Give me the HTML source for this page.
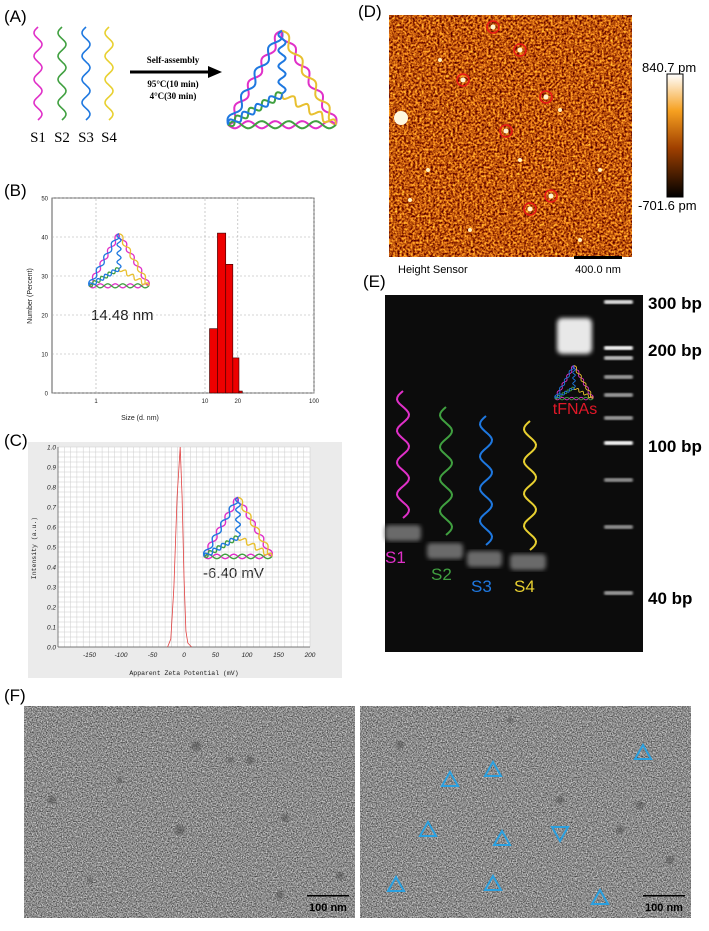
<!DOCTYPE html>
<html><head><meta charset="utf-8"><style>
html,body{margin:0;padding:0;background:#fff;}
body{width:709px;height:931px;overflow:hidden;position:relative;font-family:"Liberation Sans",sans-serif;}
svg{position:absolute;left:0;top:0;}
</style></head><body>
<svg id="fig" width="709" height="931" viewBox="0 0 709 931" xmlns="http://www.w3.org/2000/svg">
<defs>
<filter id="afmNoise" x="0" y="0" width="100%" height="100%" color-interpolation-filters="sRGB">
<feTurbulence type="fractalNoise" baseFrequency="0.45" numOctaves="2" seed="4" result="n"/>
<feColorMatrix in="n" type="matrix" values="1.6 0 0 0 -0.05  1.5 0 0 0 -0.41  0.5 0 0 0 -0.2  0 0 0 0 1"/>
</filter>
<filter id="temNoise" x="0" y="0" width="100%" height="100%" color-interpolation-filters="sRGB">
<feTurbulence type="fractalNoise" baseFrequency="0.8" numOctaves="2" seed="7" result="n"/>
<feColorMatrix in="n" type="matrix" values="1.05 0 0 0 0.02  1.05 0 0 0 0.02  1.05 0 0 0 0.02  0 0 0 0 1"/>
</filter>
<filter id="blur2"><feGaussianBlur stdDeviation="2"/></filter>
<filter id="blur1"><feGaussianBlur stdDeviation="1"/></filter>
</defs>

<!-- Panel A -->
<g id="panelA">
<text x="173" y="63" font-family="Liberation Serif,serif" font-weight="bold" font-size="9" text-anchor="middle">Self-assembly</text>
<line x1="130" y1="72" x2="212" y2="72" stroke="#000" stroke-width="3"/>
<polygon points="222,72 208,66 208,78" fill="#000"/>
<text x="173" y="87" font-family="Liberation Serif,serif" font-weight="bold" font-size="9" text-anchor="middle">95°C(10 min)</text>
<text x="173" y="99" font-family="Liberation Serif,serif" font-weight="bold" font-size="9" text-anchor="middle">4°C(30 min)</text>
<text x="38" y="142" font-family="Liberation Serif,serif" font-size="15" text-anchor="middle">S1</text>
<text x="62" y="142" font-family="Liberation Serif,serif" font-size="15" text-anchor="middle">S2</text>
<text x="86" y="142" font-family="Liberation Serif,serif" font-size="15" text-anchor="middle">S3</text>
<text x="109" y="142" font-family="Liberation Serif,serif" font-size="15" text-anchor="middle">S4</text>
</g>

<!-- Panel B -->
<g id="panelB">
<rect x="52" y="198" width="262" height="195" fill="#fff" stroke="#333" stroke-width="0.8"/>
<text x="140" y="420" font-size="7" text-anchor="middle" fill="#222">Size (d. nm)</text>
<text x="0" y="0" font-size="7" text-anchor="middle" fill="#222" transform="translate(32,296) rotate(-90)">Number (Percent)</text>
<text x="91" y="320" font-size="15" fill="#222">14.48 nm</text>
</g>

<!-- Panel C -->
<g id="panelC">
<rect x="28" y="442" width="314" height="236" fill="#ebebeb"/>
<rect x="58" y="447" width="252" height="200" fill="#fff"/>
<text x="184" y="675" font-family="Liberation Mono,monospace" font-size="6.5" text-anchor="middle" fill="#222">Apparent Zeta Potential (mV)</text>
<text x="0" y="0" font-family="Liberation Mono,monospace" font-size="6.5" text-anchor="middle" fill="#222" transform="translate(36,548) rotate(-90)">Intensity (a.u.)</text>
<text x="203" y="578" font-size="15" fill="#222">-6.40 mV</text>
</g>

<!-- Panel D -->
<g id="panelD">
<rect x="389" y="15" width="243" height="242" fill="#b45410" filter="url(#afmNoise)"/>
<circle cx="401" cy="118" r="7" fill="#fff8e0"/>
<defs><linearGradient id="cbar" x1="0" y1="0" x2="0" y2="1">
<stop offset="0" stop-color="#ffffff"/><stop offset="0.3" stop-color="#f6a020"/><stop offset="0.6" stop-color="#a04000"/><stop offset="1" stop-color="#000"/></linearGradient></defs>
<rect x="667" y="74" width="16" height="123" fill="url(#cbar)" stroke="#000" stroke-width="1"/>
<text x="642" y="72" font-size="13">840.7 pm</text>
<text x="638" y="210" font-size="13">-701.6 pm</text>
<text x="398" y="273" font-size="11">Height Sensor</text>
<rect x="574" y="256" width="48" height="3" fill="#000"/>
<text x="598" y="273" font-size="11" text-anchor="middle">400.0 nm</text>
</g>

<!-- Panel E -->
<g id="panelE">
<rect x="385" y="295" width="258" height="357" fill="#0c0c0c"/>
<text x="648" y="309" font-size="17" font-weight="bold">300 bp</text>
<text x="648" y="356" font-size="17" font-weight="bold">200 bp</text>
<text x="648" y="452" font-size="17" font-weight="bold">100 bp</text>
<text x="648" y="604" font-size="17" font-weight="bold">40 bp</text>
<text x="385" y="563" font-size="17" fill="#e030c8">S1</text>
<text x="431" y="580" font-size="17" fill="#40a040">S2</text>
<text x="471" y="592" font-size="17" fill="#1e78e0">S3</text>
<text x="514" y="592" font-size="17" fill="#e8d030">S4</text>
<text x="575" y="414" font-size="16" fill="#e01828" text-anchor="middle">tFNAs</text>
</g>

<!-- Panel F -->
<g id="panelF">
<rect x="24" y="706" width="331" height="212" fill="#8c8c8c" filter="url(#temNoise)"/>
<rect x="360" y="706" width="331" height="212" fill="#8c8c8c" filter="url(#temNoise)"/>
</g>
<g id="panelFover">
<rect x="307" y="895" width="42" height="1.5" fill="#000"/>
<text x="328" y="911" font-size="11" font-weight="bold" text-anchor="middle">100 nm</text>
<rect x="643" y="895" width="42" height="1.5" fill="#000"/>
<text x="664" y="911" font-size="11" font-weight="bold" text-anchor="middle">100 nm</text>
</g>

<!-- panel labels -->
<text x="4" y="22" font-size="17">(A)</text>
<text x="4" y="196" font-size="17">(B)</text>
<text x="4" y="446" font-size="17">(C)</text>
<text x="358" y="17" font-size="17">(D)</text>
<text x="363" y="287" font-size="17">(E)</text>
<text x="4" y="701" font-size="17">(F)</text>
</svg>
<script>
// ---- Panel B data ----
const binLeft = [11, 13, 15.5, 18, 20.5];
const binRight = [13, 15.5, 18, 20.5, 22];
const binValues = [16.5, 41, 33, 9, 0.5];
const bYTicks = [0, 10, 20, 30, 40, 50];
const bXTicks = [1, 10, 20, 100];
// ---- Panel C data ----
const zetaX = [-26, -21, -16, -11, -6, -3, 0, 3, 6, 9, 12];
const zetaY = [0, 0.04, 0.3, 0.75, 1.0, 0.75, 0.35, 0.08, 0.02, 0.01, 0];
const cXTicks = [-150, -100, -50, 0, 50, 100, 150, 200];
const cYTicks = [0, 0.1, 0.2, 0.3, 0.4, 0.5, 0.6, 0.7, 0.8, 0.9, 1.0];
// ---- Panel E data ----
const ladderBands = [302, 348, 358, 377, 395, 418, 443, 480, 527, 593];
const ladderBright = [0.9, 1, 0.75, 0.6, 0.6, 0.6, 1, 0.55, 0.55, 0.6];

const NS = 'http://www.w3.org/2000/svg';
function mk(tag, attrs, parent) {
  const e = document.createElementNS(NS, tag);
  for (const k in attrs) e.setAttribute(k, attrs[k]);
  (parent || document.getElementById('fig')).appendChild(e);
  return e;
}
function wavePath(x1, y1, x2, y2, amp, n) {
  const dx = x2 - x1, dy = y2 - y1, L = Math.hypot(dx, dy);
  const ux = dx / L, uy = dy / L, px = -uy, py = ux;
  let d = '';
  for (let i = 0; i <= 60; i++) {
    const t = i / 60, s = amp * Math.sin(t * n * 2 * Math.PI);
    d += (i ? 'L' : 'M') + (x1 + dx * t + px * s).toFixed(1) + ' ' + (y1 + dy * t + py * s).toFixed(1);
  }
  return d;
}
function triangle(g, cx, cy, s, sw) {
  const h = s * 0.87;
  const T = [cx, cy - h * 0.62], L = [cx - s / 2, cy + h * 0.38], R = [cx + s / 2, cy + h * 0.38], C = [cx, cy + h * 0.05];
  const a = s / 30;
  const segs = [[T, L, '#e030c8', 0], [T, L, '#1e78e0', 1], [T, R, '#e030c8', 0], [T, R, '#e8c030', 1],
    [L, R, '#e030c8', 0], [L, R, '#40a040', 1], [T, C, '#1e78e0', 0], [L, C, '#40a040', 0], [C, R, '#e8c030', 0], [L, C, '#1e78e0', 1]];
  segs.forEach(sg => {
    const p = mk('path', { d: wavePath(sg[0][0], sg[0][1], sg[1][0], sg[1][1], sg[3] ? -a : a, 4), fill: 'none', stroke: sg[2], 'stroke-width': sw }, g);
    
    
  });
}

// Panel A strands
const gA = document.getElementById('panelA');
[['#e030c8', 38], ['#40a040', 62], ['#1e78e0', 86], ['#e8d030', 109]].forEach((c, i) => {
  const p = mk('path', { d: wavePath(c[1], 27, c[1], 120, 4, 4), fill: 'none', stroke: c[0], 'stroke-width': 1.6 }, gA);
  
  
});
triangle(gA, 282, 89, 108, 2);

// Panel B
const gB = document.getElementById('panelB');
const bx0 = 52, bx1 = 314, by0 = 393, by1 = 198;
const bxs = v => 96 + Math.log10(v) * 109;
const bys = v => by0 - (v / 50) * (by0 - by1);
bYTicks.forEach(t => {
  const l = mk('line', { x1: bx0, x2: bx1, y1: bys(t), y2: bys(t), stroke: '#aaa', 'stroke-width': 0.6, 'stroke-dasharray': '2,2' }, gB);
  
  
  const tx = mk('text', { x: bx0 - 4, y: bys(t) + 2.5, 'font-size': 6, 'text-anchor': 'end', fill: '#222' }, gB);
  tx.textContent = t;
  
  
});
bXTicks.forEach(t => {
  const l = mk('line', { x1: bxs(t), x2: bxs(t), y1: by0, y2: by1, stroke: '#aaa', 'stroke-width': 0.6, 'stroke-dasharray': '2,2' }, gB);
  
  
  const tx = mk('text', { x: bxs(t), y: by0 + 10, 'font-size': 6, 'text-anchor': 'middle', fill: '#222' }, gB);
  tx.textContent = t;
  
  
});
binValues.forEach((v, i) => {
  const r = mk('rect', { x: bxs(binLeft[i]), y: bys(v), width: bxs(binRight[i]) - bxs(binLeft[i]), height: by0 - bys(v), fill: '#ee0000', stroke: '#300', 'stroke-width': 0.6 }, gB);
  
  
});
triangle(gB, 119, 266, 60, 1.3);

// Panel C
const gC = document.getElementById('panelC');
const cx0 = 58, cx1 = 310, cy0 = 647, cy1 = 447;
const cxs = v => cx0 + (v + 200) / 400 * (cx1 - cx0);
const cys = v => cy0 - v * (cy0 - cy1);
for (let v = -200; v <= 200; v += 10) {
  const l = mk('line', { x1: cxs(v), x2: cxs(v), y1: cy0, y2: cy1, stroke: '#ccc', 'stroke-width': 0.5 }, gC);
  
  
}
for (let v = 0; v <= 1.0001; v += 0.025) {
  const l = mk('line', { x1: cx0, x2: cx1, y1: cys(v), y2: cys(v), stroke: '#ccc', 'stroke-width': 0.5 }, gC);
  
  
}
mk('line', { x1: cx0, x2: cx0, y1: cy0, y2: cy1, stroke: '#555', 'stroke-width': 0.7 }, gC);
mk('line', { x1: cx0, x2: cx1, y1: cy0, y2: cy0, stroke: '#555', 'stroke-width': 0.7 }, gC);
cXTicks.forEach(t => {
  const tx = mk('text', { x: cxs(t), y: cy0 + 10, 'font-size': 6.5, 'font-style': 'italic', 'text-anchor': 'middle', fill: '#222' }, gC);
  tx.textContent = t;
  
  
});
cYTicks.forEach(t => {
  const tx = mk('text', { x: cx0 - 2, y: cys(t) + 2.5, 'font-size': 6.5, 'font-style': 'italic', 'text-anchor': 'end', fill: '#222' }, gC);
  tx.textContent = t.toFixed(1);
  
  
});
const zl = mk('polyline', { points: zetaX.map((x, i) => cxs(x).toFixed(1) + ',' + cys(zetaY[i]).toFixed(1)).join(' '), fill: 'none', stroke: '#e04040', 'stroke-width': 0.8 }, gC);


triangle(gC, 238, 534, 68, 1.4);

// Panel D particles
const gD = document.getElementById('panelD');
[[440, 60], [428, 170], [560, 110], [600, 170], [470, 230], [580, 240], [410, 200], [520, 160]].forEach(p => {
  const d = mk('circle', { cx: p[0], cy: p[1], r: 2, fill: '#fff0c0' }, gD);
  
  
});
[[493, 27], [520, 50], [463, 80], [546, 97], [506, 131], [551, 196], [530, 209]].forEach(p => {
  const d = mk('circle', { cx: p[0], cy: p[1], r: 2.5, fill: '#fff6d0' }, gD);
  
  
  const c = mk('circle', { cx: p[0], cy: p[1], r: 6, fill: 'none', stroke: '#e81818', 'stroke-width': 1.5 }, gD);
  
  
});

// Panel E gel
const gE = document.getElementById('panelE');
ladderBands.forEach((y, i) => {
  const b = mk('rect', { x: 604, y: y - 2, width: 29, height: 4, rx: 2, fill: '#fff', opacity: ladderBright[i], filter: 'url(#blur1)' }, gE);
  
  
});
const tb = mk('rect', { x: 557, y: 318, width: 35, height: 36, rx: 5, fill: '#e8e8e8', filter: 'url(#blur2)' }, gE);


[[385, 525, 36], [427, 543, 36], [467, 551, 35], [510, 554, 36]].forEach((b, i) => {
  const r = mk('rect', { x: b[0], y: b[1], width: b[2], height: 16, rx: 4, fill: '#6a6a6a', filter: 'url(#blur2)' }, gE);
  
  
});
[['#e030c8', 403, 391, 518], ['#40a040', 446, 407, 535], ['#1e78e0', 486, 416, 545], ['#e8d030', 530, 421, 550]].forEach((c, i) => {
  const p = mk('path', { d: wavePath(c[1], c[2], c[1], c[3], 6, 4), fill: 'none', stroke: c[0], 'stroke-width': 2 }, gE);
  
  
});
triangle(gE, 574, 386, 38, 0.9);

// Panel F TEM
const gF = document.getElementById('panelF');
[[196, 0, 746, 5], [52, 0, 800, 4], [180, 0, 830, 5], [285, 0, 818, 4], [120, 0, 780, 3], [230, 0, 760, 3], [90, 0, 880, 3], [340, 0, 876, 4], [280, 0, 895, 4], [250, 0, 760, 4],
 [560, 0, 800, 4], [640, 0, 805, 4], [510, 0, 720, 3], [400, 0, 745, 4], [620, 0, 830, 4], [670, 0, 860, 4]].forEach(d => {
  const c = mk('circle', { cx: d[0], cy: d[2], r: d[3], fill: '#444', opacity: 0.45, filter: 'url(#blur1)' }, gF);
  
  
});
[[643, 752, 0], [493, 769, 0], [450, 779, 0], [428, 829, 0], [502, 838, 0], [560, 834, 1], [396, 884, 0], [493, 883, 0], [600, 897, 0]].forEach(t => {
  const s = 16, h = s * 0.87, x = t[0], y = t[1];
  const pts = t[2] ? [[x - s / 2, y - h / 2], [x + s / 2, y - h / 2], [x, y + h / 2]] : [[x, y - h / 2], [x - s / 2, y + h / 2], [x + s / 2, y + h / 2]];
  const p = mk('polygon', { points: pts.map(q => q.join(',')).join(' '), fill: 'none', stroke: '#2aa0e0', 'stroke-width': 2 }, gF);
  
  
});
</script>
</body></html>
